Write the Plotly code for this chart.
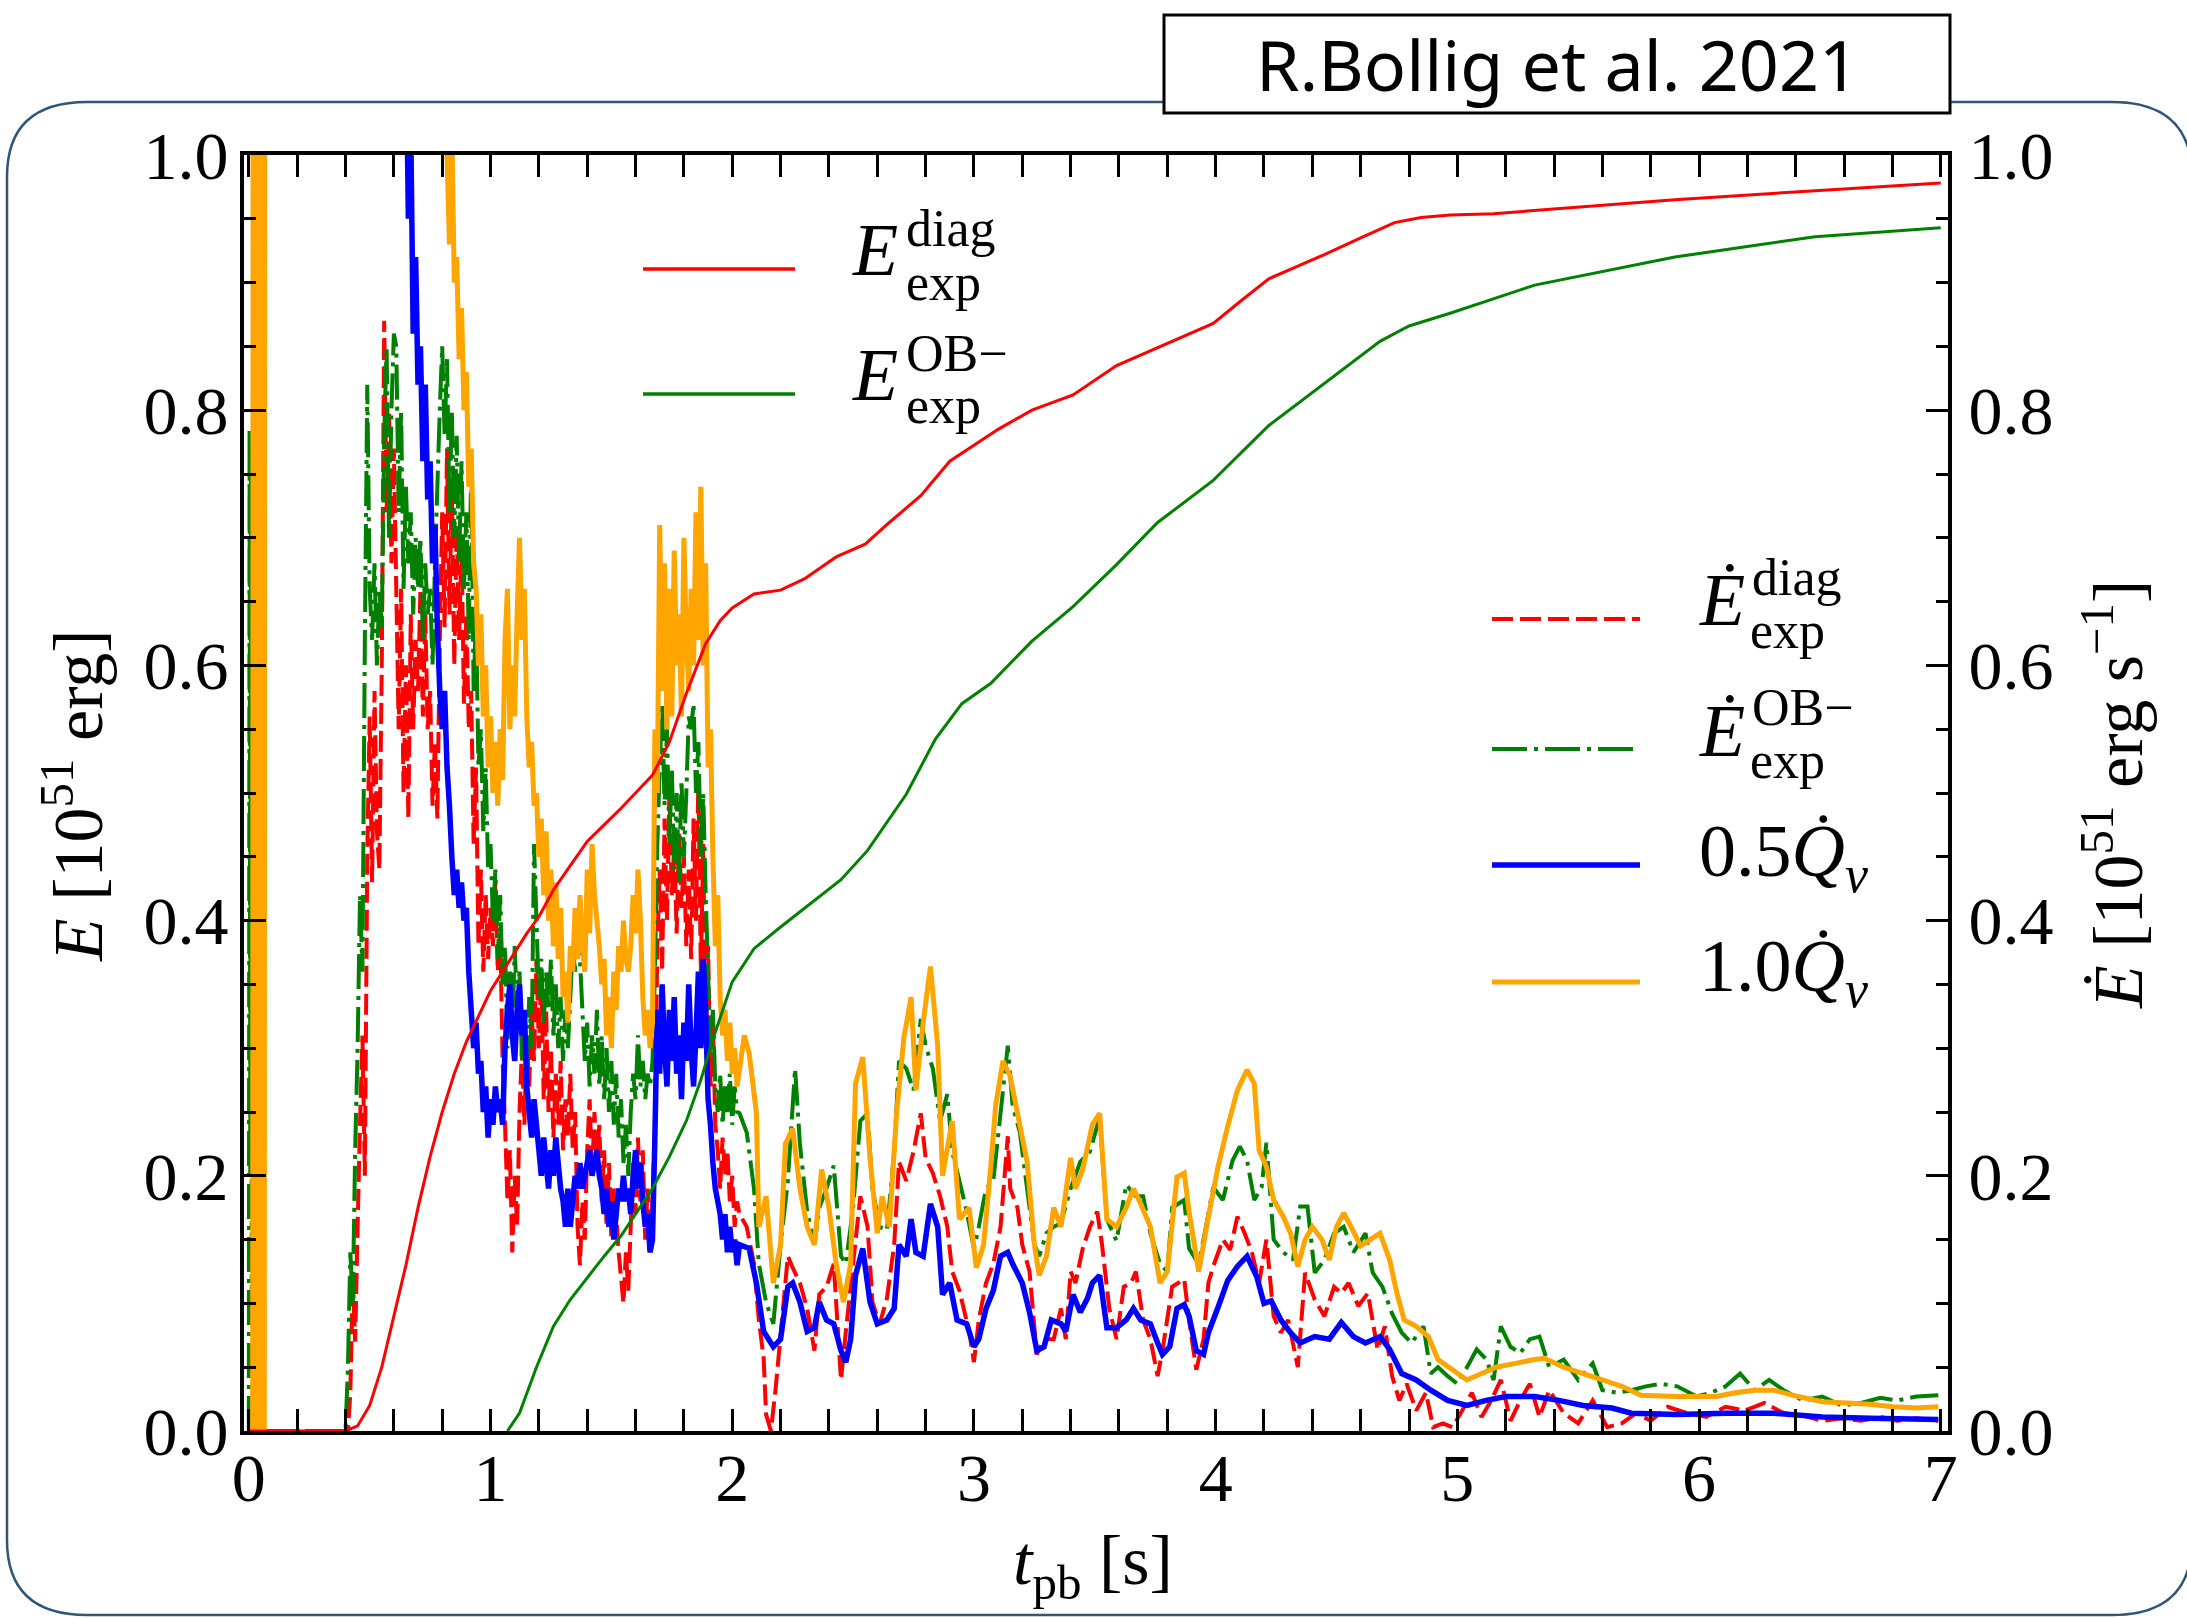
import plotly.graph_objects as go

# ---------------------------------------------------------------- data
def grid(t0, n):
    """sample times of a densely read section (every 0.01 s)"""
    return [round(t0 + 0.01 * i, 2) for i in range(n)]

# --- Edot_exp^diag (red dashed)
ediag_rate_head_t = [0.0, 0.40]
ediag_rate_head_v = [0.0, 0.0]
ediag_rate_dense_v = [
    0.00, 0.03, 0.12, 0.07, 0.16, 0.24, 0.31, 0.20, 0.45, 0.56,
    0.43, 0.58, 0.47, 0.44, 0.60, 0.87, 0.72, 0.80, 0.68, 0.77,
    0.66, 0.55, 0.66, 0.50, 0.60, 0.48, 0.64, 0.55, 0.62, 0.58,
    0.66, 0.56, 0.64, 0.55, 0.58, 0.49, 0.54, 0.48, 0.62, 0.72,
    0.63, 0.77, 0.64, 0.74, 0.60, 0.71, 0.62, 0.70, 0.57, 0.64,
    0.55, 0.58, 0.46, 0.52, 0.38, 0.44, 0.36, 0.42, 0.37, 0.41,
    0.38, 0.43, 0.36, 0.39, 0.29, 0.24, 0.18, 0.22, 0.14, 0.20,
    0.16, 0.25, 0.30, 0.24, 0.31, 0.27, 0.33, 0.29, 0.37, 0.30,
    0.36, 0.26, 0.33, 0.25, 0.30, 0.23, 0.28, 0.24, 0.29, 0.22,
    0.26, 0.23, 0.28, 0.22, 0.25, 0.16, 0.13, 0.18, 0.15, 0.22,
    0.26, 0.20, 0.25, 0.21, 0.24, 0.18, 0.22, 0.16, 0.21, 0.15,
    0.19, 0.17, 0.14, 0.12, 0.10, 0.14, 0.11, 0.16, 0.21, 0.17,
    0.23, 0.18, 0.22, 0.15, 0.19, 0.14, 0.18, 0.24, 0.38, 0.44,
    0.36, 0.48, 0.40, 0.50, 0.42, 0.46, 0.39, 0.47, 0.41, 0.45,
    0.38, 0.44, 0.37, 0.48, 0.40, 0.51, 0.36, 0.46, 0.30, 0.38,
    0.27, 0.32, 0.24, 0.22, 0.19, 0.23, 0.20, 0.22, 0.18, 0.20,
    0.16, 0.18]
ediag_rate_tail_t = [
    2.03, 2.06, 2.09, 2.11, 2.13, 2.14, 2.16, 2.18, 2.20, 2.23, 2.25, 2.28,
    2.31, 2.34, 2.36, 2.39, 2.42, 2.45, 2.47, 2.50, 2.53, 2.56, 2.58, 2.61,
    2.64, 2.67, 2.69, 2.72, 2.75, 2.78, 2.80, 2.83, 2.86, 2.89, 2.91, 2.94,
    2.98, 3.00, 3.02, 3.05, 3.08, 3.11, 3.14, 3.15, 3.18, 3.20, 3.23, 3.26,
    3.29, 3.33, 3.36, 3.38, 3.40, 3.42, 3.45, 3.48, 3.51, 3.53, 3.56, 3.59,
    3.62, 3.65, 3.67, 3.70, 3.73, 3.76, 3.78, 3.82, 3.87, 3.89, 3.92, 3.95,
    3.97, 3.99, 4.03, 4.06, 4.09, 4.12, 4.15, 4.18, 4.21, 4.24, 4.27, 4.30,
    4.34, 4.37, 4.41, 4.45, 4.49, 4.52, 4.55, 4.59, 4.63, 4.67, 4.70, 4.73,
    4.76, 4.79, 4.83, 4.87, 4.90, 4.94, 4.98, 5.02, 5.06, 5.10, 5.14, 5.18,
    5.22, 5.26, 5.30, 5.34, 5.38, 5.44, 5.50, 5.56, 5.62, 5.68, 5.74, 5.80,
    5.87, 5.95, 6.03, 6.11, 6.19, 6.27, 6.35, 6.43, 6.51, 6.59, 6.67, 6.75,
    6.82, 6.90, 6.99]
ediag_rate_tail_v = [
    0.170, 0.160, 0.131, 0.087, 0.057, 0.013, 0.000, 0.034, 0.075, 0.137, 0.128, 0.116,
    0.096, 0.063, 0.107, 0.113, 0.131, 0.040, 0.078, 0.131, 0.184, 0.160, 0.101, 0.084,
    0.104, 0.146, 0.211, 0.196, 0.219, 0.249, 0.214, 0.202, 0.184, 0.160, 0.125, 0.110,
    0.078, 0.054, 0.087, 0.116, 0.131, 0.160, 0.231, 0.190, 0.175, 0.146, 0.125, 0.060,
    0.072, 0.072, 0.096, 0.072, 0.125, 0.116, 0.143, 0.160, 0.172, 0.146, 0.096, 0.072,
    0.113, 0.116, 0.125, 0.087, 0.072, 0.043, 0.063, 0.113, 0.119, 0.087, 0.048, 0.072,
    0.116, 0.129, 0.150, 0.142, 0.168, 0.155, 0.140, 0.116, 0.150, 0.090, 0.077, 0.087,
    0.050, 0.124, 0.103, 0.090, 0.113, 0.108, 0.116, 0.098, 0.108, 0.064, 0.082, 0.043,
    0.024, 0.037, 0.016, 0.030, 0.003, 0.006, 0.003, 0.016, 0.030, 0.011, 0.024, 0.040,
    0.008, 0.024, 0.037, 0.011, 0.032, 0.014, 0.006, 0.024, 0.003, 0.006, 0.014, 0.008,
    0.019, 0.014, 0.011, 0.019, 0.016, 0.022, 0.014, 0.012, 0.008, 0.010, 0.008, 0.011,
    0.008, 0.010, 0.008]

# --- Edot_exp^OB- (green dash-dot)
eob_rate_head_t = [0.0, 0.003, 0.006, 0.009, 0.012, 0.015, 0.018, 0.40]
eob_rate_head_v = [0.0, 0.785, 0.20, 0.78, 0.10, 0.77, 0.0, 0.0]
eob_rate_dense_v = [
    0.05, 0.14, 0.10, 0.22, 0.30, 0.42, 0.36, 0.62, 0.82, 0.66,
    0.62, 0.68, 0.60, 0.66, 0.63, 0.78, 0.85, 0.70, 0.80, 0.86,
    0.85, 0.72, 0.80, 0.66, 0.74, 0.68, 0.72, 0.64, 0.70, 0.66,
    0.70, 0.62, 0.68, 0.64, 0.66, 0.60, 0.68, 0.74, 0.80, 0.85,
    0.78, 0.84, 0.72, 0.80, 0.70, 0.78, 0.68, 0.76, 0.66, 0.72,
    0.62, 0.76, 0.58, 0.64, 0.52, 0.55, 0.47, 0.52, 0.44, 0.46,
    0.40, 0.44, 0.37, 0.42, 0.35, 0.38, 0.30, 0.36, 0.31, 0.38,
    0.33, 0.36, 0.29, 0.33, 0.28, 0.34, 0.30, 0.46, 0.40, 0.34,
    0.37, 0.32, 0.36, 0.33, 0.37, 0.31, 0.35, 0.30, 0.34, 0.29,
    0.33, 0.30, 0.34, 0.38, 0.36, 0.41, 0.37, 0.33, 0.29, 0.32,
    0.27, 0.31, 0.28, 0.33, 0.27, 0.31, 0.26, 0.30, 0.25, 0.29,
    0.24, 0.28, 0.23, 0.26, 0.21, 0.24, 0.20, 0.25, 0.28, 0.26,
    0.31, 0.27, 0.29, 0.26, 0.28, 0.27, 0.29, 0.36, 0.46, 0.52,
    0.57, 0.49, 0.55, 0.46, 0.52, 0.44, 0.50, 0.43, 0.51, 0.45,
    0.50, 0.56, 0.55, 0.57, 0.50, 0.54, 0.45, 0.50, 0.42, 0.36,
    0.30, 0.33, 0.27, 0.25, 0.28, 0.24, 0.27, 0.25, 0.28, 0.24,
    0.27, 0.25]
eob_rate_tail_t = [
    2.03, 2.06, 2.09, 2.11, 2.14, 2.17, 2.20, 2.23, 2.26, 2.28, 2.31, 2.34,
    2.36, 2.39, 2.42, 2.45, 2.47, 2.50, 2.53, 2.56, 2.58, 2.61, 2.64, 2.67,
    2.69, 2.72, 2.75, 2.78, 2.80, 2.83, 2.86, 2.89, 2.91, 2.94, 2.97, 3.00,
    3.02, 3.05, 3.08, 3.11, 3.14, 3.16, 3.19, 3.22, 3.25, 3.27, 3.30, 3.33,
    3.36, 3.40, 3.44, 3.48, 3.52, 3.55, 3.59, 3.63, 3.67, 3.70, 3.73, 3.77,
    3.80, 3.82, 3.87, 3.89, 3.93, 3.96, 3.99, 4.03, 4.07, 4.10, 4.13, 4.16,
    4.19, 4.21, 4.24, 4.28, 4.32, 4.35, 4.38, 4.41, 4.45, 4.49, 4.53, 4.57,
    4.62, 4.65, 4.69, 4.73, 4.77, 4.81, 4.86, 4.89, 4.92, 4.96, 5.00, 5.04,
    5.08, 5.12, 5.15, 5.18, 5.22, 5.26, 5.30, 5.34, 5.38, 5.44, 5.50, 5.56,
    5.60, 5.66, 5.72, 5.78, 5.84, 5.91, 5.99, 6.05, 6.11, 6.17, 6.23, 6.29,
    6.35, 6.43, 6.51, 6.59, 6.67, 6.75, 6.82, 6.90, 6.99]
eob_rate_tail_v = [
    0.249, 0.234, 0.190, 0.131, 0.101, 0.084, 0.146, 0.196, 0.284, 0.225, 0.172, 0.146,
    0.175, 0.190, 0.208, 0.137, 0.131, 0.175, 0.243, 0.249, 0.190, 0.160, 0.157, 0.219,
    0.290, 0.284, 0.267, 0.323, 0.302, 0.284, 0.243, 0.264, 0.219, 0.196, 0.172, 0.143,
    0.160, 0.190, 0.196, 0.249, 0.302, 0.255, 0.234, 0.190, 0.146, 0.137, 0.155, 0.160,
    0.163, 0.190, 0.211, 0.219, 0.246, 0.166, 0.149, 0.193, 0.184, 0.184, 0.155, 0.131,
    0.125, 0.175, 0.181, 0.143, 0.131, 0.160, 0.191, 0.181, 0.212, 0.223, 0.212, 0.181,
    0.191, 0.226, 0.150, 0.140, 0.134, 0.176, 0.176, 0.124, 0.134, 0.155, 0.160, 0.140,
    0.155, 0.124, 0.113, 0.092, 0.077, 0.069, 0.082, 0.045, 0.050, 0.043, 0.037, 0.050,
    0.064, 0.056, 0.040, 0.082, 0.066, 0.061, 0.072, 0.074, 0.050, 0.056, 0.040, 0.053,
    0.032, 0.030, 0.032, 0.035, 0.037, 0.035, 0.027, 0.030, 0.035, 0.045, 0.032, 0.040,
    0.032, 0.024, 0.027, 0.020, 0.022, 0.026, 0.024, 0.027, 0.028]

# --- 0.5 Qdot_nu (blue); off the top of the axis until t ~ 0.65 s
q05_head_t = [0.64]
q05_head_v = [1.3]
q05_dense_v = [
    1.10, 0.95, 1.02, 0.86, 0.92, 0.82, 0.85, 0.76, 0.82, 0.73,
    0.76, 0.68, 0.71, 0.63, 0.58, 0.55, 0.58, 0.52, 0.49, 0.45,
    0.42, 0.44, 0.41, 0.43, 0.40, 0.41, 0.36, 0.33, 0.30, 0.32,
    0.28, 0.29, 0.25, 0.27, 0.23, 0.26, 0.24, 0.27, 0.25, 0.26,
    0.24, 0.30, 0.33, 0.35, 0.31, 0.29, 0.33, 0.35, 0.31, 0.33,
    0.27, 0.25, 0.23, 0.26, 0.24, 0.22, 0.20, 0.23, 0.21, 0.19,
    0.22, 0.20, 0.23, 0.21, 0.19, 0.18, 0.16, 0.19, 0.16, 0.18,
    0.20, 0.19, 0.21, 0.19, 0.20, 0.21, 0.22, 0.20, 0.21, 0.22,
    0.20, 0.19, 0.17, 0.19, 0.16, 0.18, 0.15, 0.17, 0.19, 0.18,
    0.20, 0.18, 0.19, 0.17, 0.20, 0.22, 0.19, 0.21, 0.18, 0.16,
    0.17, 0.14, 0.15, 0.23, 0.33, 0.28, 0.35, 0.30, 0.27, 0.33,
    0.29, 0.34, 0.28, 0.31, 0.26, 0.32, 0.29, 0.35, 0.30, 0.27,
    0.31, 0.36, 0.30, 0.37, 0.33, 0.26, 0.24, 0.21, 0.19, 0.18,
    0.17, 0.15, 0.17, 0.14, 0.16, 0.14, 0.15, 0.13]
q05_tail_t = [
    2.03, 2.07, 2.10, 2.13, 2.17, 2.20, 2.23, 2.25, 2.28, 2.31, 2.34, 2.36,
    2.39, 2.42, 2.45, 2.47, 2.49, 2.51, 2.54, 2.57, 2.60, 2.64, 2.67, 2.69,
    2.72, 2.74, 2.76, 2.79, 2.82, 2.85, 2.87, 2.90, 2.93, 2.97, 3.00, 3.02,
    3.05, 3.08, 3.11, 3.14, 3.16, 3.20, 3.23, 3.26, 3.29, 3.32, 3.36, 3.38,
    3.41, 3.44, 3.47, 3.49, 3.52, 3.55, 3.59, 3.63, 3.66, 3.69, 3.73, 3.76,
    3.78, 3.81, 3.84, 3.87, 3.89, 3.92, 3.95, 3.97, 4.01, 4.05, 4.09, 4.13,
    4.17, 4.20, 4.23, 4.27, 4.31, 4.35, 4.41, 4.47, 4.52, 4.57, 4.62, 4.68,
    4.72, 4.77, 4.83, 4.89, 4.96, 5.04, 5.12, 5.20, 5.32, 5.42, 5.52, 5.64,
    5.72, 5.91, 6.11, 6.31, 6.51, 6.71, 6.99]
q05_tail_v = [
    0.146, 0.143, 0.116, 0.078, 0.066, 0.072, 0.113, 0.116, 0.101, 0.078, 0.081, 0.101,
    0.087, 0.084, 0.063, 0.054, 0.072, 0.122, 0.143, 0.101, 0.084, 0.087, 0.096, 0.146,
    0.137, 0.166, 0.140, 0.137, 0.178, 0.160, 0.107, 0.116, 0.087, 0.084, 0.066, 0.072,
    0.096, 0.110, 0.137, 0.140, 0.131, 0.116, 0.093, 0.063, 0.066, 0.087, 0.084, 0.078,
    0.107, 0.093, 0.104, 0.116, 0.122, 0.081, 0.081, 0.087, 0.096, 0.087, 0.084, 0.069,
    0.060, 0.066, 0.096, 0.099, 0.090, 0.063, 0.060, 0.077, 0.097, 0.118, 0.129, 0.137,
    0.121, 0.100, 0.102, 0.087, 0.077, 0.069, 0.074, 0.072, 0.085, 0.074, 0.069, 0.074,
    0.064, 0.045, 0.040, 0.032, 0.024, 0.020, 0.024, 0.027, 0.027, 0.024, 0.020, 0.018,
    0.014, 0.013, 0.014, 0.014, 0.011, 0.010, 0.009]

# --- 1.0 Qdot_nu (orange): fast full-range oscillation just after bounce
q10_head_t = [0.016, 0.018, 0.020, 0.022, 0.024, 0.026, 0.028, 0.030, 0.032,
              0.034, 0.036, 0.038, 0.040, 0.042, 0.044, 0.046, 0.048, 0.050,
              0.052, 0.054, 0.056, 0.058, 0.060, 0.062, 0.064, 0.066, 0.81]
q10_head_v = [0.0, 1.3, 0.0, 1.3, 0.0, 1.3, 0.0, 1.3, 0.0,
              1.3, 0.0, 1.3, 0.0, 1.3, 0.0, 1.3, 0.0, 1.3,
              0.0, 1.3, 0.0, 1.3, 0.0, 1.3, 0.0, 1.3, 1.3]
q10_dense_v = [
    1.00, 0.93, 1.02, 0.90, 0.92, 0.84, 0.88, 0.80, 0.83, 0.74,
    0.77, 0.68, 0.66, 0.60, 0.64, 0.56, 0.60, 0.52, 0.56, 0.50,
    0.54, 0.49, 0.55, 0.51, 0.62, 0.66, 0.55, 0.60, 0.56, 0.64,
    0.70, 0.62, 0.66, 0.56, 0.52, 0.54, 0.49, 0.50, 0.45, 0.48,
    0.42, 0.47, 0.40, 0.44, 0.38, 0.43, 0.37, 0.41, 0.34, 0.36,
    0.32, 0.38, 0.36, 0.41, 0.37, 0.42, 0.38, 0.36, 0.44, 0.39,
    0.46, 0.42, 0.40, 0.38, 0.35, 0.37, 0.31, 0.34, 0.30, 0.36,
    0.33, 0.38, 0.36, 0.40, 0.37, 0.36, 0.38, 0.42, 0.39, 0.44,
    0.40, 0.34, 0.31, 0.33, 0.30, 0.32, 0.55, 0.50, 0.71, 0.58,
    0.68, 0.55, 0.66, 0.56, 0.69, 0.60, 0.64, 0.56, 0.70, 0.62,
    0.58, 0.66, 0.60, 0.72, 0.62, 0.74, 0.60, 0.68, 0.52, 0.55,
    0.45, 0.38, 0.42, 0.34, 0.31, 0.33, 0.29, 0.32, 0.28, 0.30,
    0.27]
q10_tail_t = [
    2.05, 2.07, 2.10, 2.11, 2.14, 2.17, 2.20, 2.22, 2.25, 2.28, 2.31, 2.34,
    2.37, 2.40, 2.43, 2.46, 2.49, 2.51, 2.54, 2.57, 2.60, 2.62, 2.65, 2.68,
    2.71, 2.74, 2.76, 2.79, 2.82, 2.85, 2.87, 2.91, 2.94, 2.98, 3.01, 3.04,
    3.07, 3.09, 3.12, 3.15, 3.18, 3.22, 3.25, 3.27, 3.30, 3.33, 3.36, 3.40,
    3.42, 3.45, 3.49, 3.52, 3.55, 3.59, 3.63, 3.66, 3.69, 3.73, 3.77, 3.80,
    3.84, 3.87, 3.89, 3.93, 3.97, 4.01, 4.05, 4.09, 4.13, 4.16, 4.18, 4.21,
    4.24, 4.28, 4.31, 4.34, 4.37, 4.40, 4.44, 4.47, 4.50, 4.53, 4.56, 4.60,
    4.64, 4.68, 4.72, 4.75, 4.78, 4.83, 4.88, 4.92, 4.98, 5.04, 5.10, 5.16,
    5.24, 5.32, 5.36, 5.44, 5.52, 5.60, 5.68, 5.76, 5.91, 6.07, 6.15, 6.23,
    6.31, 6.41, 6.51, 6.61, 6.71, 6.80, 6.90, 6.99]
q10_tail_v = [
    0.310, 0.296, 0.249, 0.160, 0.184, 0.116, 0.146, 0.225, 0.237, 0.190, 0.160, 0.146,
    0.205, 0.175, 0.131, 0.101, 0.131, 0.272, 0.293, 0.214, 0.155, 0.184, 0.160, 0.249,
    0.308, 0.340, 0.267, 0.320, 0.364, 0.302, 0.200, 0.243, 0.166, 0.175, 0.128, 0.146,
    0.208, 0.255, 0.290, 0.278, 0.249, 0.211, 0.146, 0.122, 0.137, 0.175, 0.160, 0.214,
    0.190, 0.205, 0.240, 0.249, 0.166, 0.160, 0.175, 0.190, 0.178, 0.160, 0.116, 0.125,
    0.199, 0.202, 0.172, 0.125, 0.168, 0.207, 0.239, 0.267, 0.283, 0.272, 0.220, 0.207,
    0.181, 0.168, 0.155, 0.129, 0.150, 0.160, 0.150, 0.134, 0.160, 0.171, 0.160, 0.145,
    0.150, 0.155, 0.134, 0.108, 0.087, 0.082, 0.074, 0.056, 0.048, 0.040, 0.045, 0.050,
    0.053, 0.056, 0.057, 0.050, 0.045, 0.040, 0.035, 0.028, 0.027, 0.027, 0.030, 0.032,
    0.032, 0.027, 0.023, 0.022, 0.021, 0.019, 0.018, 0.019]

# --- cumulative E_exp^diag (red solid)
ediag_t = [0.0, 0.40, 0.45, 0.50, 0.55, 0.60, 0.65, 0.70, 0.75, 0.80, 0.85, 0.90,
           0.95, 1.00, 1.05, 1.10, 1.15, 1.20, 1.26, 1.33, 1.40, 1.47, 1.54, 1.60,
           1.67, 1.74, 1.81, 1.89, 1.95, 2.00, 2.09, 2.20, 2.30, 2.43, 2.55, 2.65,
           2.78, 2.90, 3.01, 3.10, 3.24, 3.41, 3.59, 3.82, 3.99, 4.10, 4.22, 4.34,
           4.45, 4.60, 4.74, 4.85, 4.97, 5.15, 5.55, 5.90, 6.48, 7.00]
ediag_v = [0.0, 0.0, 0.004, 0.02, 0.05, 0.09, 0.13, 0.175, 0.215, 0.25, 0.28, 0.305,
           0.325, 0.345, 0.36, 0.375, 0.39, 0.403, 0.424, 0.443, 0.462, 0.475, 0.488, 0.50,
           0.514, 0.54, 0.578, 0.617, 0.635, 0.645, 0.656, 0.659, 0.668, 0.685, 0.695, 0.712,
           0.733, 0.76, 0.774, 0.785, 0.80, 0.812, 0.835, 0.854, 0.868, 0.885, 0.903, 0.913,
           0.922, 0.935, 0.947, 0.951, 0.953, 0.954, 0.96, 0.965, 0.972, 0.978]

# --- cumulative E_exp^OB- (green solid)
eob_t = [1.07, 1.12, 1.19, 1.26, 1.33, 1.40, 1.47, 1.54, 1.60, 1.67, 1.74, 1.81,
         1.87, 1.92, 2.00, 2.09, 2.20, 2.31, 2.45, 2.56, 2.65, 2.72, 2.84, 2.95,
         3.07, 3.24, 3.41, 3.59, 3.76, 3.99, 4.22, 4.45, 4.68, 4.80, 4.97, 5.32,
         5.61, 5.90, 6.48, 7.00]
eob_v = [0.0, 0.014, 0.05, 0.082, 0.103, 0.12, 0.137, 0.153, 0.17, 0.19, 0.215, 0.243,
         0.275, 0.307, 0.352, 0.378, 0.395, 0.411, 0.432, 0.455, 0.48, 0.499, 0.542, 0.57,
         0.586, 0.619, 0.646, 0.679, 0.712, 0.745, 0.788, 0.821, 0.854, 0.866, 0.876, 0.898,
         0.909, 0.92, 0.936, 0.943]

x_ticks = [0, 1, 2, 3, 4, 5, 6, 7]
y_ticks = [0.0, 0.2, 0.4, 0.6, 0.8, 1.0]

# assemble series
ediag_rate_t = ediag_rate_head_t + grid(0.41, len(ediag_rate_dense_v)) + ediag_rate_tail_t
ediag_rate_v = ediag_rate_head_v + ediag_rate_dense_v + ediag_rate_tail_v
eob_rate_t = eob_rate_head_t + grid(0.41, len(eob_rate_dense_v)) + eob_rate_tail_t
eob_rate_v = eob_rate_head_v + eob_rate_dense_v + eob_rate_tail_v
q05_t = q05_head_t + grid(0.65, len(q05_dense_v)) + q05_tail_t
q05_v = q05_head_v + q05_dense_v + q05_tail_v
q10_t = q10_head_t + grid(0.82, len(q10_dense_v)) + q10_tail_t
q10_v = q10_head_v + q10_dense_v + q10_tail_v

# ---------------------------------------------------------------- figure
RED, GREEN, BLUE, ORANGE = "#ff0000", "#008000", "#0000ff", "#ffa500"
DASH_RED = "21px,7px"
DASH_GREEN = "35px,7px,4px,7px"
SERIF = "Liberation Serif"

fig = go.Figure()
# rates -> right axis (y)
fig.add_trace(go.Scatter(x=ediag_rate_t, y=ediag_rate_v, mode="lines", yaxis="y",
                         line=dict(color=RED, width=4, dash=DASH_RED, simplify=False),
                         showlegend=False))
fig.add_trace(go.Scatter(x=eob_rate_t, y=eob_rate_v, mode="lines", yaxis="y",
                         line=dict(color=GREEN, width=4, dash=DASH_GREEN, simplify=False),
                         showlegend=False))
fig.add_trace(go.Scatter(x=q05_t, y=q05_v, mode="lines", yaxis="y",
                         line=dict(color=BLUE, width=5.5, simplify=False), showlegend=False))
fig.add_trace(go.Scatter(x=q10_t, y=q10_v, mode="lines", yaxis="y",
                         line=dict(color=ORANGE, width=5, simplify=False), showlegend=False))
# cumulative energies -> left axis (y2)
fig.add_trace(go.Scatter(x=ediag_t, y=ediag_v, mode="lines", yaxis="y2",
                         line=dict(color=RED, width=3), showlegend=False))
fig.add_trace(go.Scatter(x=eob_t, y=eob_v, mode="lines", yaxis="y2",
                         line=dict(color=GREEN, width=3), showlegend=False))

W, H = 2187, 1618
L, R, T, B = 244, 239, 155, 187
PW, PH = W - L - R, H - T - B


def px(xp):
    return (xp - L) / PW


def py(yp):
    return (H - B - yp) / PH


tickfont = dict(family=SERIF, size=68, color="black")
common_y = dict(range=[0, 1], tickvals=y_ticks, tickformat=".1f", showline=True,
                linecolor="black", linewidth=4, ticks="inside", ticklen=22, tickwidth=3,
                tickcolor="black", showgrid=False, zeroline=False, tickfont=tickfont,
                minor=dict(ticks="inside", ticklen=12, tickwidth=2.5, dtick=0.05,
                           tick0=0, tickcolor="black", showgrid=False))

fig.update_layout(
    width=W, height=H,
    margin=dict(l=L, r=R, t=T, b=B, pad=0),
    paper_bgcolor="white", plot_bgcolor="white",
    showlegend=False,
    xaxis=dict(range=[-0.02, 7.03], tickvals=x_ticks, showline=True, linecolor="black",
               linewidth=4, mirror="allticks", ticks="inside", ticklen=22, tickwidth=3,
               tickcolor="black", showgrid=False, zeroline=False, tickfont=tickfont,
               minor=dict(ticks="inside", ticklen=12, tickwidth=2.5, dtick=0.2, tick0=0,
                          tickcolor="black", showgrid=False),
               ticklabelstandoff=-16),
    yaxis=dict(side="right", ticklabelstandoff=3, **common_y),
    yaxis2=dict(side="left", overlaying="y", ticklabelstandoff=-2, **common_y),
)

shapes = []
annotations = []

# outer rounded frame
lx, rx_, ty, by = px(7), px(2192), py(102), py(1615)
crx, cry = 80 / PW, 75 / PH
path = (f"M {lx},{ty - cry} Q {lx},{ty} {lx + crx},{ty} L {rx_ - crx},{ty} "
        f"Q {rx_},{ty} {rx_},{ty - cry} L {rx_},{by + cry} Q {rx_},{by} {rx_ - crx},{by} "
        f"L {lx + crx},{by} Q {lx},{by} {lx},{by + cry} Z")
shapes.append(dict(type="path", path=path, xref="paper", yref="paper",
                   line=dict(color="#2f5578", width=2.5), layer="below"))
# citation box
shapes.append(dict(type="rect", xref="paper", yref="paper", x0=px(1164), x1=px(1950),
                   y0=py(113), y1=py(15), line=dict(color="black", width=3),
                   fillcolor="white", layer="above"))
annotations.append(dict(text="R.Bollig et al. 2021", x=px(1557), y=py(64), xref="paper",
                        yref="paper", showarrow=False, xanchor="center", yanchor="middle",
                        font=dict(family="Noto Sans", size=70, color="black")))

# axis titles
annotations.append(dict(text="<i>E</i> [10<sup>51</sup> erg]", x=px(73), y=py(796),
                        xref="paper", yref="paper", showarrow=False, textangle=-90,
                        xanchor="center", yanchor="middle",
                        font=dict(family=SERIF, size=70, color="black")))
annotations.append(dict(text="<i>Ė</i> [10<sup>51</sup> erg s<sup>−1</sup>]", x=px(2113),
                        y=py(795), xref="paper", yref="paper", showarrow=False,
                        textangle=-90, xanchor="center", yanchor="middle",
                        font=dict(family=SERIF, size=70, color="black")))
annotations.append(dict(text="<i>t</i><sub>pb</sub> [s]", x=px(1093), y=py(1566),
                        xref="paper", yref="paper", showarrow=False, xanchor="center",
                        yanchor="middle", font=dict(family=SERIF, size=70, color="black")))


def legend_line(x0, x1, yp, color, width, dash="solid"):
    shapes.append(dict(type="line", xref="paper", yref="paper", x0=px(x0), x1=px(x1),
                       y0=py(yp), y1=py(yp), line=dict(color=color, width=width, dash=dash),
                       layer="above"))


def label(text, xp, baseline, size):
    annotations.append(dict(text=text, x=px(xp), y=py(baseline - 0.34 * size),
                            xref="paper", yref="paper", showarrow=False,
                            xanchor="left", yanchor="middle",
                            font=dict(family=SERIF, size=size, color="black")))


# legend 1 (cumulative energies)
legend_line(643, 795, 269, RED, 3.5)
legend_line(643, 795, 394, GREEN, 3.5)
label("<i>E</i>", 850, 275, 74)
label("diag", 904, 246, 52)
label("exp", 904, 300, 52)
label("<i>E</i>", 850, 400, 74)
label("OB−", 904, 371, 52)
label("exp", 904, 423, 52)

# legend 2 (rates)
legend_line(1492, 1640, 619, RED, 4, DASH_RED)
legend_line(1492, 1640, 749, GREEN, 4, DASH_GREEN)
legend_line(1492, 1640, 865, BLUE, 5.5)
legend_line(1492, 1640, 982, ORANGE, 5)
label("<i>Ė</i>", 1697, 625, 74)
label("diag", 1750, 595, 52)
label("exp", 1748, 648, 52)
label("<i>Ė</i>", 1697, 756, 74)
label("OB−", 1750, 725, 52)
label("exp", 1748, 778, 52)
label("0.5<i>Q̇</i><sub><i>ν</i></sub>", 1697, 882, 74)
label("1.0<i>Q̇</i><sub><i>ν</i></sub>", 1697, 997, 74)

fig.update_layout(shapes=shapes, annotations=annotations)
fig.write_html("out.html")
